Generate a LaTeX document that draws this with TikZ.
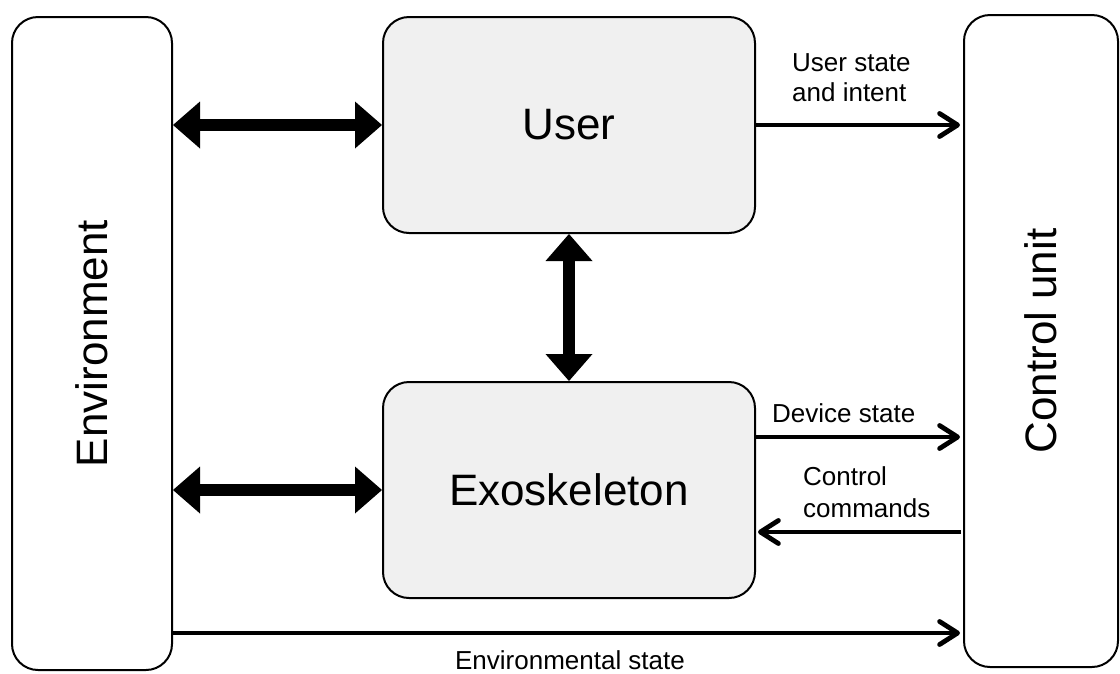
\documentclass[tikz,border=0pt]{standalone}
\usepackage{fontspec}
\setmainfont{Liberation Sans}
\usetikzlibrary{arrows.meta}
\tikzset{
  box/.style={draw=black, line width=2pt, rounded corners=26pt, inner sep=0pt},
  graybox/.style={box, fill=boxgray},
  bigtext/.style={font=\fontsize{44}{50}\selectfont},
  smalltext/.style={font=\fontsize{26}{30}\selectfont, inner sep=0pt},
  fat/.style={line width=12pt, {Triangle[length=27pt,width=47pt,line width=0pt]}-{Triangle[length=27pt,width=47pt,line width=0pt]}},
  thin/.style={line width=4.8pt, -{Straight Barb[length=18pt,width=23pt,round]}}
}
\definecolor{boxgray}{HTML}{F0F0F0}
\begin{document}
\begin{tikzpicture}[x=1pt,y=1pt]
\useasboundingbox (0,0) rectangle (1120,-673);
\node[box, minimum width=160pt, minimum height=653pt] (env) at (92,-343.5) {};
\node[bigtext, rotate=90] (envt) at (env.center) {Environment};
\node[box, minimum width=154pt, minimum height=652pt] (cu) at (1041,-341) {};
\node[bigtext, rotate=90] (cut) at (cu.center) {Control unit};
\node[graybox, minimum width=372pt, minimum height=216pt, bigtext] (user) at (569,-125) {User};
\node[graybox, minimum width=372pt, minimum height=216pt, bigtext] (exo) at (569,-490) {Exoskeleton};

\draw[fat] (env.east |- user.west) -- (user.west);
\draw[fat] (env.east |- exo.west) -- (exo.west);
\draw[fat] (user.south) -- (exo.north);

\coordinate (ds) at ([yshift=53pt]exo.east);
\coordinate (cc) at ([yshift=-42pt]exo.east);
\coordinate (es) at ([yshift=-289.5pt]env.east);
\draw[thin] (user.east) -- ([xshift=-3pt]cu.west |- user.east);
\draw[thin] (ds) -- ([xshift=-3pt]cu.west |- ds);
\draw[thin] ([xshift=-2pt]cu.west |- cc) -- ([xshift=2pt]cc);
\draw[thin] (es) -- ([xshift=-3pt]cu.west |- es);

\node[smalltext, anchor=base west, align=left] (l1) at (792,-101) {User state\\and intent};
\node[smalltext, anchor=base west] (l2) at (772,-422) {Device state};
\node[smalltext, font=\fontsize{26}{32}\selectfont, anchor=base west, align=left] (l3) at (803,-517) {Control\\commands};
\node[smalltext, anchor=base] (l4) at (570,-669) {Environmental state};
\end{tikzpicture}
\end{document}
